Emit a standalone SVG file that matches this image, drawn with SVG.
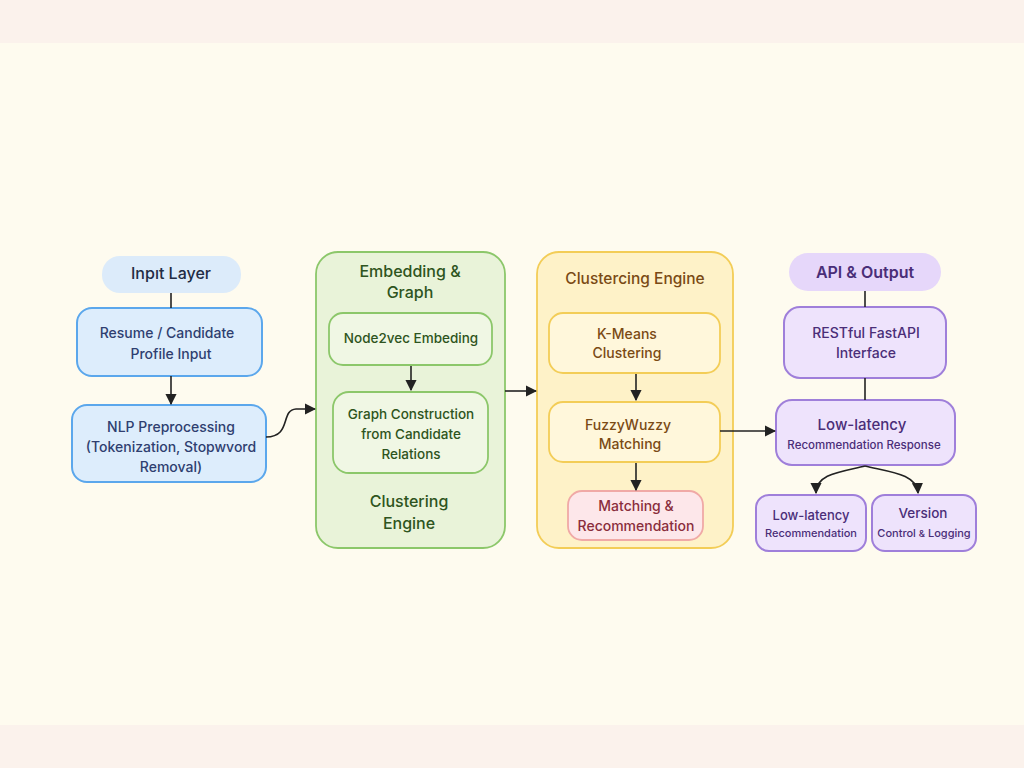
<svg xmlns="http://www.w3.org/2000/svg" width="1024" height="768" viewBox="0 0 1024 768">
<defs>
<marker id="ah" viewBox="0 0 10 10" refX="9" refY="5" markerWidth="7" markerHeight="7" orient="auto-start-reverse"><path d="M0,0 L10,5 L0,10 z" fill="#222"/></marker>
<style>
text{font-family:Inter,"Noto Sans","DejaVu Sans",sans-serif;text-anchor:middle;font-weight:500;}
.blue{fill:#DDEDFC;stroke:#5BA7EC;stroke-width:2;}
.bt{fill:#2F3F70;font-size:14px;}
.grn{fill:#F0F7E4;stroke:#8CC76A;stroke-width:1.8;}
.gt{fill:#2E5420;font-size:13.5px;}
.yel{fill:#FFF7DB;stroke:#F3CD57;stroke-width:1.8;}
.yt{fill:#7A4A14;font-size:14px;}
.pur{fill:#EEE3FC;stroke:#9F7FDA;stroke-width:2;}
.pt{fill:#4A2E78;}
.ln{stroke:#222;stroke-width:1.6;fill:none;}
</style>
</defs>
<rect width="1024" height="768" fill="#FBF2EC"/>
<rect y="43" width="1024" height="682" fill="#FEFBEF"/>

<g id="input-layer">
<rect x="102" y="256" width="139" height="37" rx="18" fill="#DCEBFA"/>
<text x="171" y="279" style="font-size:16px;fill:#222C44;">Inpıt Layer</text>
</g>
<g id="resume">
<rect class="blue" x="77" y="308" width="185" height="68" rx="15"/>
<text class="bt" x="167" y="338">Resume / Candidate</text>
<text class="bt" x="171" y="359">Profile Input</text>
</g>
<g id="nlp">
<rect class="blue" x="72" y="405" width="194" height="77" rx="15"/>
<text class="bt" x="171" y="432">NLP Preprocessing</text>
<text class="bt" x="171" y="452">(Tokenization, Stopwvord</text>
<text class="bt" x="171" y="472">Removal)</text>
</g>

<g id="embedding-graph">
<rect x="316" y="252" width="189" height="296" rx="22" fill="#E9F3D9" stroke="#8CC76A" stroke-width="1.8"/>
<text x="410" y="277" style="font-size:16px;fill:#2E5420;">Embedding &amp;</text>
<text x="410" y="298" style="font-size:16px;fill:#2E5420;">Graph</text>
<text x="409" y="507" style="font-size:16px;fill:#2E5420;">Clustering</text>
<text x="409" y="529" style="font-size:16px;fill:#2E5420;">Engine</text>
</g>
<g id="node2vec">
<rect class="grn" x="329" y="313" width="163" height="52" rx="14"/>
<text class="gt" x="411" y="343">Node2vec Embeding</text>
</g>
<g id="graph-construction">
<rect class="grn" x="333" y="392" width="155" height="81" rx="16"/>
<text class="gt" x="411" y="419">Graph Construction</text>
<text class="gt" x="411" y="439">from Candidate</text>
<text class="gt" x="411" y="459">Relations</text>
</g>

<g id="clustering-engine">
<rect x="537" y="252" width="196" height="296" rx="22" fill="#FEF2C8" stroke="#F3CD57" stroke-width="1.8"/>
<text x="635" y="284" style="font-size:15.5px;fill:#7A4A14;">Clustercing Engine</text>
</g>
<g id="kmeans">
<rect class="yel" x="549" y="313" width="171" height="60" rx="14"/>
<text class="yt" x="627" y="339">K-Means</text>
<text class="yt" x="627" y="358">Clustering</text>
</g>
<g id="fuzzy">
<rect class="yel" x="549" y="402" width="171" height="60" rx="14"/>
<text class="yt" x="628" y="430">FuzzyWuzzy</text>
<text class="yt" x="630" y="449">Matching</text>
</g>
<g id="matching-recommendation">
<rect x="568" y="491" width="135" height="49" rx="14" fill="#FDE7EA" stroke="#F0A9A6" stroke-width="1.8"/>
<text x="636" y="511" style="font-size:14px;fill:#8A2E3C;">Matching &amp;</text>
<text x="636" y="531" style="font-size:14px;fill:#8A2E3C;">Recommendation</text>
</g>

<g id="api-output">
<rect x="789" y="253" width="152" height="38" rx="19" fill="#E6D7FA"/>
<text class="pt" x="865" y="278" style="font-size:16px;font-weight:600;">API &amp; Output</text>
</g>
<g id="restful">
<rect class="pur" x="784" y="307" width="162" height="71" rx="16"/>
<text class="pt" x="866" y="338" style="font-size:14px;">RESTful FastAPI</text>
<text class="pt" x="866" y="358" style="font-size:14px;">Interface</text>
</g>
<g id="low-latency-response">
<rect class="pur" x="776" y="400" width="179" height="65" rx="16"/>
<text class="pt" x="862" y="430" style="font-size:15px;">Low-latency</text>
<text class="pt" x="864" y="449" style="font-size:11.5px;">Recommendation Response</text>
</g>
<g id="low-latency-recommendation">
<rect class="pur" x="756" y="495" width="110" height="56" rx="13"/>
<text class="pt" x="811" y="520" style="font-size:13px;">Low-latency</text>
<text class="pt" x="811" y="537" style="font-size:11px;">Recommendation</text>
</g>
<g id="version-control">
<rect class="pur" x="872" y="495" width="104" height="56" rx="13"/>
<text class="pt" x="923" y="518" style="font-size:13.5px;">Version</text>
<text class="pt" x="924" y="537" style="font-size:11px;">Control <tspan style="font-size:9.5px;">&amp;</tspan> Logging</text>
</g>

<g id="connectors">
<path class="ln" d="M171,293 V308"/>
<path class="ln" d="M171,376 V404" marker-end="url(#ah)"/>
<path class="ln" d="M266,437 C292,437 280,410 296,409 L315,409" marker-end="url(#ah)"/>
<path class="ln" d="M411,366 V390" marker-end="url(#ah)"/>
<path class="ln" d="M505,391 H536" marker-end="url(#ah)"/>
<path class="ln" d="M636,374 V400" marker-end="url(#ah)"/>
<path class="ln" d="M636,463 V490" marker-end="url(#ah)"/>
<path class="ln" d="M720,431 H775" marker-end="url(#ah)"/>
<path class="ln" d="M865,291 V307"/>
<path class="ln" d="M865,378 V400"/>
<path class="ln" d="M865,466 C840,472 816,474 816,493" marker-end="url(#ah)"/>
<path class="ln" d="M865,466 C890,472 917,474 918,493" marker-end="url(#ah)"/>
</g>
</svg>
